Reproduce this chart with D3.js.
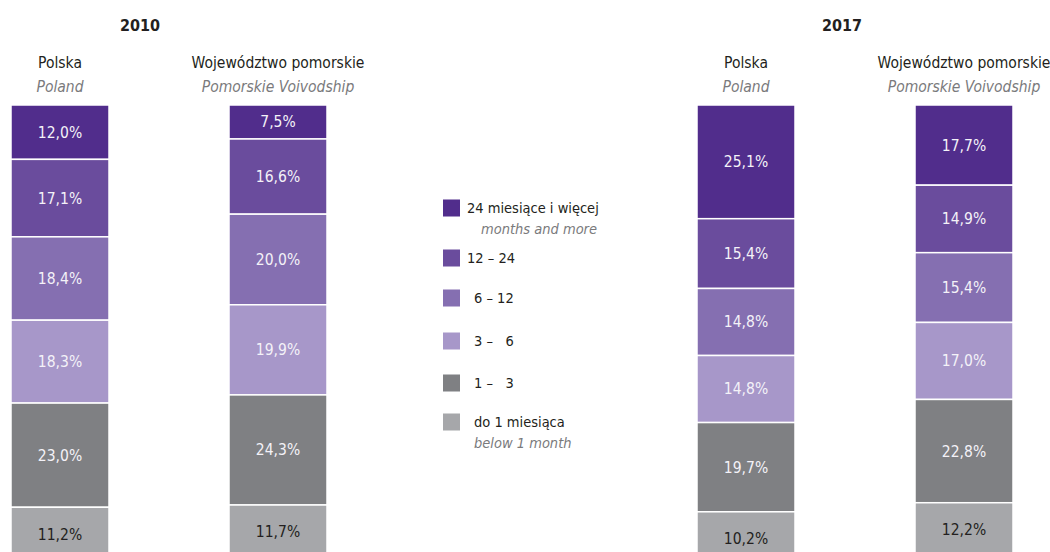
<!DOCTYPE html>
<html>
<head>
<meta charset="utf-8">
<script src="https://cdn.jsdelivr.net/npm/d3@7"></script>
<style>
  html, body { margin: 0; padding: 0; background: #fff; }
  svg { display: block; font-family: "Liberation Sans Narrow", "DejaVu Sans Condensed", "Roboto Condensed", sans-serif; }
</style>
</head>
<body>
<svg id="chart" width="1050" height="552"></svg>
<script>
// ---- data ----
const years = ["2010", "2017"];
const regions = ["Polska", "Województwo pomorskie"];
const regionsEn = ["Poland", "Pomorskie Voivodship"];
const durations = ["24 miesiące i więcej", "12 – 24", "6 – 12", "3 –   6", "1 –   3", "do 1 miesiąca"];
const durationsEn = ["months and more", "", "", "", "", "below 1 month"];
const polska2010 = [12.0, 17.1, 18.4, 18.3, 23.0, 11.2];
const pomorskie2010 = [7.5, 16.6, 20.0, 19.9, 24.3, 11.7];
const polska2017 = [25.1, 15.4, 14.8, 14.8, 19.7, 10.2];
const pomorskie2017 = [17.7, 14.9, 15.4, 17.0, 22.8, 12.2];
const colors = ["#512d8c", "#6a4c9d", "#856fb1", "#a797c9", "#7f8083", "#a6a7aa"];

const bars = [
  { year: "2010", region: 0, values: polska2010 },
  { year: "2010", region: 1, values: pomorskie2010 },
  { year: "2017", region: 0, values: polska2017 },
  { year: "2017", region: 1, values: pomorskie2017 }
];

const svg = d3.select("#chart");
const fmt = v => d3.format(".1f")(v).replace(".", ",") + "%";

// ---- scales ----
const xYear = d3.scaleOrdinal().domain(years).range([11, 697]);
const xRegion = d3.scaleOrdinal().domain([0, 1]).range([0, 218]);
const barW = 98;
const y = d3.scaleLinear().domain([0, 100]).range([105, 558]);
const color = d3.scaleOrdinal().domain(d3.range(durations.length)).range(colors);

// ---- year titles ----
const yearTitleOffset = { "2010": 129, "2017": 145 };
svg.selectAll("text.year").data(years).join("text")
  .attr("class", "year")
  .attr("x", d => xYear(d) + yearTitleOffset[d])
  .attr("y", 31)
  .attr("text-anchor", "middle")
  .attr("font-size", 16).attr("font-weight", "bold").attr("fill", "#231f20")
  .text(d => d);

// ---- bars ----
const g = svg.selectAll("g.bar").data(bars).join("g")
  .attr("class", "bar")
  .attr("transform", d => `translate(${xYear(d.year) + xRegion(d.region)},0)`);

g.append("text")
  .attr("x", barW / 2).attr("y", 68)
  .attr("text-anchor", "middle").attr("font-size", 15.5).attr("fill", "#231f20")
  .text(d => regions[d.region]);
g.append("text")
  .attr("x", barW / 2).attr("y", 92)
  .attr("text-anchor", "middle").attr("font-size", 15.5).attr("font-style", "italic").attr("fill", "#7a7a7c")
  .text(d => regionsEn[d.region]);

const segs = g.selectAll("g.seg")
  .data(d => {
    const cum = [0, ...d3.cumsum(d.values)];
    return d.values.map((v, i) => ({ v, i, y0: cum[i], y1: cum[i + 1] }));
  })
  .join("g").attr("class", "seg");

segs.append("rect")
  .attr("x", 0).attr("width", barW)
  .attr("y", d => y(d.y0))
  .attr("height", d => y(d.y1) - y(d.y0))
  .attr("fill", d => color(d.i))
  .attr("stroke", "#fff").attr("stroke-width", 1.5);

segs.append("text")
  .attr("x", barW / 2)
  .attr("y", d => d.i === durations.length - 1 ? y(d.y0) + 27 : (y(d.y0) + y(d.y1)) / 2)
  .attr("dy", "0.35em")
  .attr("text-anchor", "middle").attr("font-size", 15.5)
  .attr("fill", d => d.i === durations.length - 1 ? "#231f20" : "#f4f2f8")
  .text(d => fmt(d.v));

// ---- legend ----
const legendY = d3.scaleOrdinal().domain(d3.range(durations.length)).range([208, 258, 298, 341, 383, 422]);
const lg = svg.selectAll("g.legend").data(durations).join("g")
  .attr("class", "legend")
  .attr("transform", (d, i) => `translate(443,${legendY(i)})`);
lg.append("rect")
  .attr("x", 0).attr("y", -8.5).attr("width", 17).attr("height", 17)
  .attr("fill", (d, i) => color(i));
lg.append("text")
  .attr("x", (d, i) => i < 2 ? 24 : 31).attr("y", 0).attr("dy", "0.35em")
  .attr("font-size", 14.5).attr("fill", "#231f20")
  .style("white-space", "pre")
  .text(d => d);
lg.filter(d => durationsEn[durations.indexOf(d)] !== "").append("text")
  .attr("x", d => durations.indexOf(d) === 0 ? 154 : 31)
  .attr("y", 21).attr("dy", "0.35em")
  .attr("text-anchor", d => durations.indexOf(d) === 0 ? "end" : "start")
  .attr("font-size", 14.5).attr("font-style", "italic").attr("fill", "#7a7a7c")
  .text(d => durationsEn[durations.indexOf(d)]);
</script>
</body>
</html>
